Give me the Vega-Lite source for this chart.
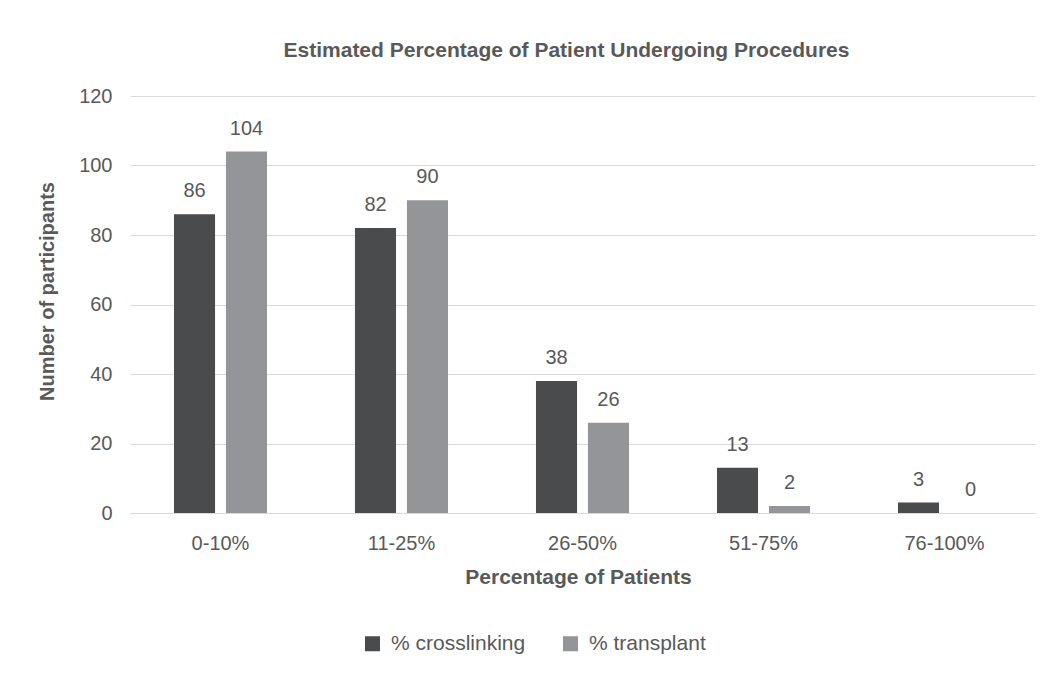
{
  "$schema": "https://vega.github.io/schema/vega-lite/v6.json",
  "width": 905,
  "height": 417,
  "autosize": "none",
  "padding": {"left": 130, "top": 96, "right": 19, "bottom": 161},
  "background": "white",
  "title": {
    "text": "Estimated Percentage of Patient Undergoing Procedures",
    "font": "Liberation Sans",
    "fontSize": 21,
    "fontWeight": "bold",
    "color": "#595959",
    "anchor": "middle",
    "dx": -16,
    "offset": 25
  },
  "data": {
    "values": [
      {"range": "0-10%", "series": "% crosslinking", "count": 86},
      {"range": "0-10%", "series": "% transplant", "count": 104},
      {"range": "11-25%", "series": "% crosslinking", "count": 82},
      {"range": "11-25%", "series": "% transplant", "count": 90},
      {"range": "26-50%", "series": "% crosslinking", "count": 38},
      {"range": "26-50%", "series": "% transplant", "count": 26},
      {"range": "51-75%", "series": "% crosslinking", "count": 13},
      {"range": "51-75%", "series": "% transplant", "count": 2},
      {"range": "76-100%", "series": "% crosslinking", "count": 3},
      {"range": "76-100%", "series": "% transplant", "count": 0}
    ]
  },
  "encoding": {
    "x": {
      "field": "range",
      "type": "nominal",
      "sort": null,
      "scale": {"paddingInner": 0.486, "paddingOuter": 0.243},
      "axis": {
        "title": "Percentage of Patients",
        "labelAngle": 0,
        "labelFont": "Liberation Sans",
        "labelFontSize": 20,
        "labelColor": "#595959",
        "labelPadding": 20,
        "ticks": false,
        "domainColor": "#d9d9d9",
        "domainWidth": 1,
        "titleFont": "Liberation Sans",
        "titleFontSize": 21,
        "titleFontWeight": "bold",
        "titleColor": "#595959",
        "titlePadding": 13,
        "titleX": 448
      }
    },
    "xOffset": {
      "field": "series",
      "type": "nominal",
      "scale": {"paddingInner": 0.21, "paddingOuter": 0}
    },
    "y": {
      "field": "count",
      "type": "quantitative",
      "scale": {"domain": [0, 120]},
      "axis": {
        "title": "Number of participants",
        "values": [0, 20, 40, 60, 80, 100, 120],
        "labelFont": "Liberation Sans",
        "labelFontSize": 20,
        "labelColor": "#595959",
        "labelPadding": 18,
        "ticks": false,
        "domain": false,
        "gridColor": "#d9d9d9",
        "gridWidth": 1,
        "titleFont": "Liberation Sans",
        "titleFontSize": 20,
        "titleFontWeight": "bold",
        "titleColor": "#595959",
        "titlePadding": 21,
        "titleY": 195
      }
    }
  },
  "layer": [
    {
      "mark": {"type": "bar"},
      "encoding": {
        "color": {
          "field": "series",
          "type": "nominal",
          "scale": {"range": ["#4a4b4d", "#939598"]},
          "legend": {
            "title": null,
            "orient": "none",
            "direction": "horizontal",
            "legendX": 232,
            "legendY": 537,
            "symbolType": "square",
            "symbolSize": 225,
            "symbolStrokeWidth": 0,
            "labelFont": "Liberation Sans",
            "labelFontSize": 21,
            "labelColor": "#595959",
            "columnPadding": 34,
            "labelOffset": 8
          }
        }
      }
    },
    {
      "mark": {
        "type": "text",
        "baseline": "bottom",
        "dy": -13,
        "font": "Liberation Sans",
        "fontSize": 20,
        "color": "#595959"
      },
      "encoding": {"text": {"field": "count", "type": "quantitative"}}
    }
  ],
  "config": {"view": {"stroke": null}}
}
